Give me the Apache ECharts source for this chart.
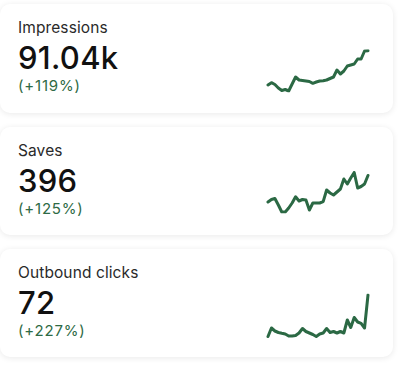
<!DOCTYPE html>
<html>
<head>
<meta charset="utf-8">
<script src="https://cdn.jsdelivr.net/npm/echarts@6/dist/echarts.min.js"></script>
<style>
  html, body { margin: 0; padding: 0; background: #ffffff; width: 400px; height: 373px; overflow: hidden; font-family: Inter, "Noto Sans", Roboto, sans-serif; }
  .card { position: absolute; left: 0; width: 393px; background: #fff; border-radius: 10px; box-shadow: 0 1px 6px rgba(0,0,0,0.09); }
  .t { position: absolute; left: 18px; line-height: 1; white-space: nowrap; }
  .label { font-size: 15.5px; color: #2a2a2a; letter-spacing: 0.1px; }
  .value { font-size: 31px; font-weight: 500; color: #111; letter-spacing: 0.3px; }
  .change { font-size: 15px; font-weight: 400; color: #2e6a45; letter-spacing: 0.8px; }
  #chart { position: absolute; left: 0; top: 0; width: 400px; height: 373px; }
</style>
</head>
<body>
<div id="cards"></div>
<div id="chart"></div>
<script>
// Metric cards
const labels = ["Impressions", "Saves", "Outbound clicks"];
const totals = ["91.04k", "396", "72"];
const changes = ["(+119%)", "(+125%)", "(+227%)"];

// Daily values read from the sparklines (relative units)
const impressions = [10, 12.3, 10.5, 7, 4.5, 5.5, 4, 11, 18, 15, 14.5, 14, 13.5, 11.7, 13, 14, 14.3, 15, 16.5, 18, 25, 21, 24, 29, 30, 31, 36, 36, 44, 44.3];
const saves = [18, 20.5, 21.5, 15, 8, 8, 12, 17, 23.3, 19, 20.5, 20, 10, 17, 17, 17, 18.3, 30, 27, 25, 28, 31, 41, 36, 42, 47.5, 32, 33.5, 36, 44.5];
const outboundClicks = [3.5, 12, 9, 7.5, 6.7, 6, 4, 4, 4.5, 7, 11.5, 8.5, 7, 5.5, 3.5, 6, 7, 11.5, 7.5, 8.5, 7, 8.5, 7, 20, 12.5, 22.5, 18, 16.7, 12, 45];
const days = impressions.map((_, i) => "D" + (i + 1));

const series = [impressions, saves, outboundClicks];
const cardTops = [4, 127, 249];
const cardHeights = [109, 108, 108];
const gridTops = [50.7, 172.5, 295];
const gridHeights = [40.3, 39.5, 41.5];

const cardsEl = document.getElementById("cards");
labels.forEach((lab, i) => {
  const c = document.createElement("div");
  c.className = "card";
  c.style.top = cardTops[i] + "px";
  c.style.height = cardHeights[i] + "px";
  c.innerHTML =
    '<div class="t label" style="top:15.9px">' + lab + '</div>' +
    '<div class="t value" style="top:37.5px">' + totals[i] + '</div>' +
    '<div class="t change" style="top:73.7px">' + changes[i] + '</div>';
  cardsEl.appendChild(c);
});

const chart = echarts.init(document.getElementById("chart"), null, { renderer: "canvas" });
const option = {
  animation: false,
  backgroundColor: "transparent",
  grid: series.map((_, i) => ({ left: 268, width: 100, top: gridTops[i], height: gridHeights[i] })),
  xAxis: series.map((_, i) => ({ type: "category", gridIndex: i, data: days, boundaryGap: false, show: false })),
  yAxis: series.map((_, i) => ({ type: "value", gridIndex: i, min: "dataMin", max: "dataMax", show: false })),
  series: series.map((d, i) => ({
    type: "line", xAxisIndex: i, yAxisIndex: i, data: d, symbol: "none",
    lineStyle: { color: "#2b6944", width: 3, join: "round", cap: "round" }
  }))
};
chart.setOption(option);
</script>
</body>
</html>
